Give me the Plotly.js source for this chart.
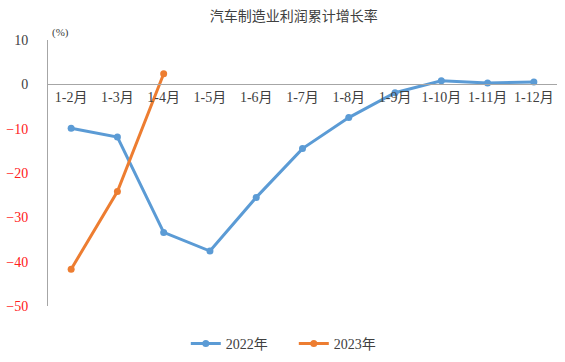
<!DOCTYPE html>
<html>
<head>
<meta charset="utf-8">
<script src="https://cdn.plot.ly/plotly-3.0.1.min.js"></script>
<style>html,body{margin:0;padding:0;background:#fff;}#chart{width:565px;height:362px;}</style>
</head>
<body>
<div id="chart"></div>
<script>
const categories = ["1-2月","1-3月","1-4月","1-5月","1-6月","1-7月","1-8月","1-9月","1-10月","1-11月","1-12月"];
const series2022 = [-9.9, -11.9, -33.4, -37.6, -25.5, -14.5, -7.5, -1.9, 0.8, 0.3, 0.5];
const categories2023 = ["1-2月","1-3月","1-4月"];
const series2023 = [-41.7, -24.2, 2.4];
const yTickVals = [10, 0, -10, -20, -30, -40, -50];
const yTickText = ["10", "0", "−10", "−20", "−30", "−40", "−50"];

const FONT = "Times New Roman, Noto Sans CJK SC";
const blue = "#5B9BD5", orange = "#ED7D31";

const ticktext = yTickVals.map((v, i) => v < 0 ? '<span style="color:#ff2020">' + yTickText[i] + '</span>' : yTickText[i]);

const traces = [
  {x: categories, y: series2022, name: "2022年", type: "scatter", mode: "lines+markers",
   line: {color: blue, width: 3}, marker: {color: blue, size: 7}},
  {x: categories2023, y: series2023, name: "2023年", type: "scatter", mode: "lines+markers",
   line: {color: orange, width: 3}, marker: {color: orange, size: 7}}
];

const layout = {
  width: 565, height: 362,
  margin: {l: 48, r: 8, t: 40, b: 56},
  paper_bgcolor: "#fff", plot_bgcolor: "#fff",
  font: {family: FONT, color: "#404040", size: 13},
  title: {text: "汽车制造业利润累计增长率", font: {family: FONT, size: 14, color: "#404040"},
          xref: "container", x: 0.52, xanchor: "center", yref: "container", y: 0.955, yanchor: "middle"},
  xaxis: {type: "category", categoryorder: "array", categoryarray: categories,
          range: [-0.5, 10.5], anchor: "free", position: 50/60,
          showline: true, linecolor: "#a6a6a6", linewidth: 1, showgrid: false, zeroline: false,
          ticks: "", tickfont: {family: FONT, size: 14, color: "#404040"}, fixedrange: true},
  yaxis: {range: [-50, 10], tickvals: yTickVals, ticktext: ticktext,
          showline: true, linecolor: "#a6a6a6", linewidth: 1, showgrid: false, zeroline: false,
          ticks: "outside", ticklen: 16, tickcolor: "rgba(0,0,0,0)",
          tickfont: {family: FONT, size: 14, color: "#404040"}, fixedrange: true},
  legend: {orientation: "h", xref: "container", x: 0.52, xanchor: "center", yref: "container", y: 0.05, yanchor: "middle",
           font: {family: FONT, size: 14, color: "#404040"}, itemwidth: 30, entrywidth: 63, entrywidthmode: "pixels"},
  annotations: [{text: "(%)", xref: "paper", yref: "paper", x: 0.025, y: 1.03, xanchor: "center", yanchor: "middle",
                 showarrow: false, font: {family: FONT, size: 11, color: "#404040"}}],
  showlegend: true
};

Plotly.newPlot("chart", traces, layout, {displayModeBar: false, staticPlot: true});
</script>
</body>
</html>
